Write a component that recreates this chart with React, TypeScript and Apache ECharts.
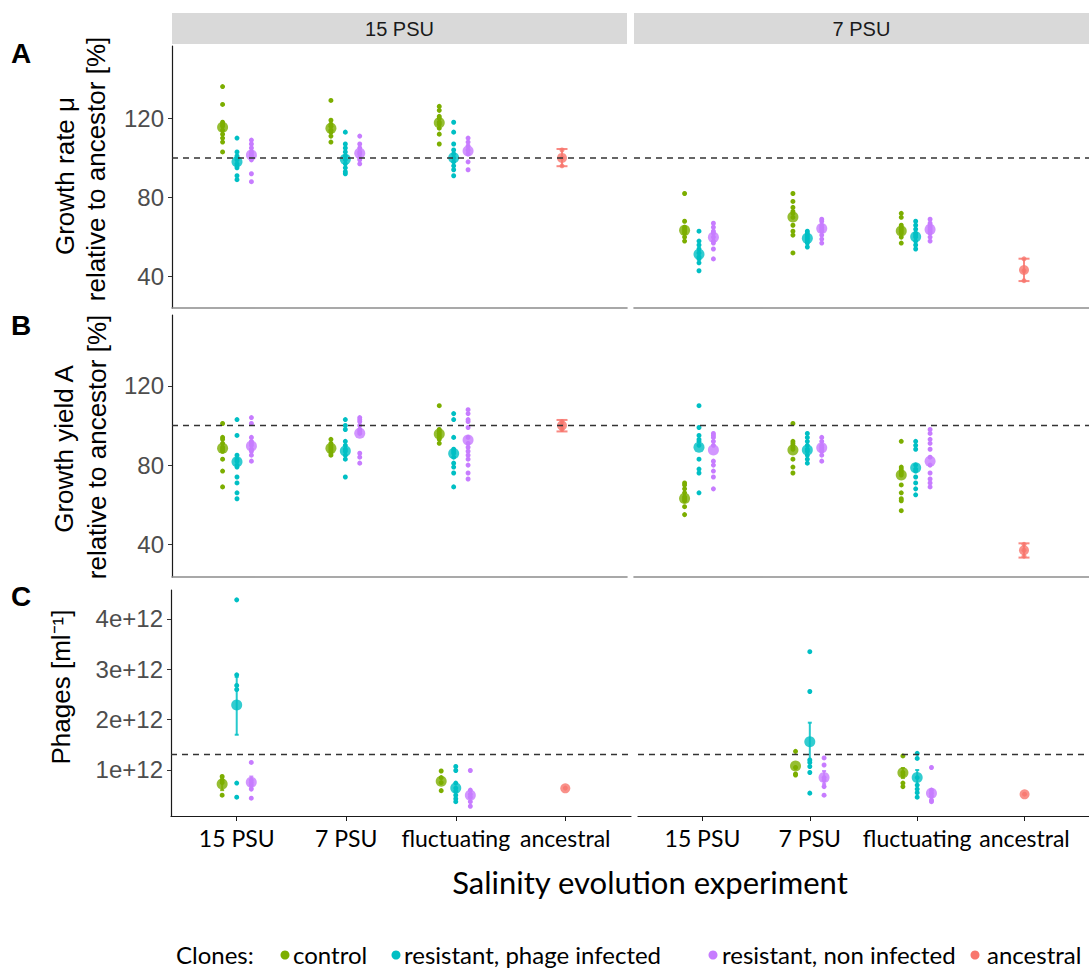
import { useEffect, useRef } from "react";
import * as echarts from "echarts";

// ---------- categories & labels ----------
const categories = ["15 PSU", "7 PSU", "fluctuating", "ancestral"];
const facetLabels = ["15 PSU", "7 PSU"];
const clones = ["control", "resistant, phage infected", "resistant, non infected", "ancestral"];
const cloneColors = ["#7CAE00", "#00BFC4", "#C77CFF", "#F8766D"];
const rateTicks = [40, 80, 120];
const yieldTicks = [40, 80, 120];
const phageTicks = [1, 2, 3, 4]; // in units of 1e12
const rateRef = 100;
const yieldRef = 100;
const phageRef = 1.31; // 1e12

// ---------- Panel A: growth rate (% of ancestor); each = [15 PSU, 7 PSU, fluctuating] ----------
const rateF15_control = [[136, 127, 118, 117, 116, 114, 112, 110, 108, 103], [129, 119, 117, 116, 114, 113, 111, 108], [126, 124, 121, 120, 118, 117, 115, 112, 107]];
const rateF15_infected = [[110, 103, 101, 100, 99, 97, 96, 95, 91, 89], [113, 107, 105, 103, 101, 99, 97, 95, 93, 92], [118, 113, 107, 104, 102, 100, 98, 96, 94, 91]];
const rateF15_nonInfected = [[109, 107, 105, 103, 102, 101, 100, 99, 92, 88], [111, 107, 105, 103, 102, 100, 99, 97], [110, 108, 106, 104, 102, 98, 94]];
const rateF15_ancestral = [104, 100, 96];
const rateF15_means = [[115.5, 115, 117.8], [98.1, 99.3, 100.1], [101.5, 102.3, 103.5]];
const rateF15_ancMean = 100;
const rateF15_errs = [[3, 3, 95.8, 104.5]];

const rateF7_control = [[82, 68, 65, 64, 63, 62, 60, 58], [82, 78, 75, 73, 72, 70, 66, 63, 61, 52], [72, 70, 66, 65, 64, 63, 62, 60, 57]];
const rateF7_infected = [[63, 58, 56, 54, 52, 50, 49, 47, 43], [63, 62, 61, 60, 59, 58, 57, 55], [68, 66, 64, 62, 61, 60, 58, 56, 54]];
const rateF7_nonInfected = [[67, 65, 63, 62, 60, 58, 57, 54, 49], [69, 68, 66, 65, 64, 63, 61, 59, 57], [69, 67, 66, 65, 64, 63, 62, 60, 58]];
const rateF7_ancestral = [49, 43, 38];
const rateF7_means = [[63.4, 70.2, 63.1], [51.3, 59.4, 60.2], [59.9, 64.4, 63.9]];
const rateF7_ancMean = 43.4;
const rateF7_errs = [[3, 3, 37.8, 49.1]];

// ---------- Panel B: growth yield (% of ancestor) ----------
const yieldF15_control = [[101, 94, 93, 91, 89, 88, 87, 83, 77, 69], [93, 91, 90, 89, 88, 87, 86, 85], [110, 98, 97, 96, 95, 94, 93, 91]];
const yieldF15_infected = [[103, 95, 85, 83, 82, 80, 79, 74, 71, 66, 63], [103, 100, 98, 92, 90, 88, 87, 85, 83, 74], [106, 103, 94, 88, 87, 86, 84, 81, 79, 76, 69]];
const yieldF15_nonInfected = [[104, 101, 94, 92, 91, 90, 88, 87, 85, 82], [104, 103, 102, 100, 98, 97, 96, 86, 84, 81], [108, 106, 103, 102, 99, 94, 91, 89, 87, 85, 83, 80, 76, 73]];
const yieldF15_ancestral = [102, 100, 98];
const yieldF15_means = [[88.5, 88.5, 95.7], [81.7, 87.1, 85.9], [89.6, 96.1, 92.7]];
const yieldF15_ancMean = 100;
const yieldF15_errs = [[3, 3, 97, 102.8]];

const yieldF7_control = [[71, 70, 68, 66, 64, 63, 62, 59, 55], [101, 92, 91, 90, 89, 88, 83, 79, 76], [92, 79, 78, 77, 76, 75, 70, 66, 63, 62, 57]];
const yieldF7_infected = [[110, 99, 95, 93, 92, 90, 83, 78, 76, 66], [96, 94, 92, 90, 88, 87, 85, 83, 81], [92, 90, 88, 80, 78, 77, 74, 71, 68, 65]];
const yieldF7_nonInfected = [[96, 95, 94, 92, 90, 82, 80, 77, 74, 68], [94, 92, 90, 89, 88, 87, 85, 82], [98, 96, 93, 91, 88, 84, 80, 76, 73, 71, 69]];
const yieldF7_ancestral = [40, 37, 34];
const yieldF7_means = [[63.2, 87.6, 75], [89, 87.6, 78.7], [87.6, 88.8, 82]];
const yieldF7_ancMean = 37;
const yieldF7_errs = [[3, 3, 33.3, 40.5]];

// ---------- Panel C: phages per ml, in units of 1e12 ----------
const phageF15_control = [[0.87, 0.8, 0.75, 0.5], [], [0.98, 0.85, 0.75, 0.59]];
const phageF15_infected = [[4.38, 2.89, 2.68, 2.6, 0.74, 0.46], [], [1.07, 0.99, 0.74, 0.64, 0.58, 0.5, 0.43, 0.37]];
const phageF15_nonInfected = [[1.15, 0.8, 0.75, 0.7, 0.62, 0.44], [], [0.99, 0.6, 0.52, 0.46, 0.37, 0.28]];
const phageF15_ancestral = [0.64];
const phageF15_means = [[0.72, null, 0.775], [2.29, null, 0.64], [0.755, null, 0.5]];
const phageF15_ancMean = 0.636;
const phageF15_errs = [[1, 0, 1.7, 2.85], [2, 0, 0.64, 0.87], [0, 0, 0.6, 0.85]];

const phageF7_control = [[], [1.37, 1.05, 0.92, 0.9], [1.28, 0.95, 0.9, 0.74, 0.67]];
const phageF7_infected = [[], [3.35, 2.56, 1.2, 1.15, 1.07, 0.95, 0.54], [1.33, 1.23, 0.85, 0.7, 0.62, 0.55, 0.46]];
const phageF7_nonInfected = [[], [1.24, 1.1, 0.85, 0.8, 0.67, 0.5], [1.05, 0.6, 0.54, 0.48, 0.4, 0.37]];
const phageF7_ancestral = [0.52];
const phageF7_means = [[null, 1.08, 0.946], [null, 1.56, 0.85], [null, 0.85, 0.54]];
const phageF7_ancMean = 0.517;
const phageF7_errs = [[1, 1, 1.2, 1.94], [1, 2, 0.7, 1.0], [2, 1, 0.72, 0.98], [0, 2, 0.84, 1.04]];

// ---------- layout ----------
const DODGE = 0.133;
const TICK_FONT = "'Liberation Sans', Arial, Helvetica, sans-serif";
const LABEL_FONT = "Lato, 'Open Sans', sans-serif";
const fmtPlain = (v: number) => String(v);
const fmtPhage = (v: number) => `${v}e+12`;

const PANELS = [
  { rect: { left: 172, top: 46, width: 455, height: 262 }, row: 0, facet: 0, yMin: 24.2, yMax: 156.5, ticks: rateTicks, fmt: fmtPlain, ref: rateRef, cap: 5.5,
    dots: [rateF15_control, rateF15_infected, rateF15_nonInfected], anc: rateF15_ancestral, means: rateF15_means, ancMean: rateF15_ancMean, errs: rateF15_errs },
  { rect: { left: 634, top: 46, width: 455, height: 262 }, row: 0, facet: 1, yMin: 24.2, yMax: 156.5, ticks: rateTicks, fmt: fmtPlain, ref: rateRef, cap: 5.5,
    dots: [rateF7_control, rateF7_infected, rateF7_nonInfected], anc: rateF7_ancestral, means: rateF7_means, ancMean: rateF7_ancMean, errs: rateF7_errs },
  { rect: { left: 172, top: 315, width: 455, height: 262 }, row: 1, facet: 0, yMin: 23.5, yMax: 155.8, ticks: yieldTicks, fmt: fmtPlain, ref: yieldRef, cap: 5.5,
    dots: [yieldF15_control, yieldF15_infected, yieldF15_nonInfected], anc: yieldF15_ancestral, means: yieldF15_means, ancMean: yieldF15_ancMean, errs: yieldF15_errs },
  { rect: { left: 634, top: 315, width: 455, height: 262 }, row: 1, facet: 1, yMin: 23.5, yMax: 155.8, ticks: yieldTicks, fmt: fmtPlain, ref: yieldRef, cap: 5.5,
    dots: [yieldF7_control, yieldF7_infected, yieldF7_nonInfected], anc: yieldF7_ancestral, means: yieldF7_means, ancMean: yieldF7_ancMean, errs: yieldF7_errs },
  { rect: { left: 171, top: 590, width: 460, height: 226 }, row: 2, facet: 0, yMin: 0.086, yMax: 4.576, ticks: phageTicks, fmt: fmtPhage, ref: phageRef, cap: 2,
    dots: [phageF15_control, phageF15_infected, phageF15_nonInfected], anc: phageF15_ancestral, means: phageF15_means, ancMean: phageF15_ancMean, errs: phageF15_errs },
  { rect: { left: 638, top: 590, width: 460, height: 226 }, row: 2, facet: 1, yMin: 0.086, yMax: 4.576, ticks: phageTicks, fmt: fmtPhage, ref: phageRef, cap: 2,
    dots: [phageF7_control, phageF7_infected, phageF7_nonInfected], anc: phageF7_ancestral, means: phageF7_means, ancMean: phageF7_ancMean, errs: phageF7_errs },
];

const xPos = (cat: number, clone: number) => cat + 1 + (clone < 3 ? (clone - 1) * DODGE : 0);

function buildOption() {
  const grid: any[] = [];
  const xAxis: any[] = [];
  const yAxis: any[] = [];
  const series: any[] = [];

  PANELS.forEach((p, i) => {
    const isC = p.row === 2;
    const isLeft = p.facet === 0;
    grid.push({ ...p.rect, containLabel: false });
    xAxis.push({
      type: "value", gridIndex: i, min: 0.4, max: 4.6,
      axisLine: { show: true, onZero: false, lineStyle: { color: isC ? "#1a1a1a" : "#8c8c8c", width: isC ? 1.2 : 1.6 } },
      axisTick: isC ? { show: true, customValues: [1, 2, 3, 4], length: 5, lineStyle: { color: "#1a1a1a", width: 1 } } : { show: false },
      axisLabel: isC
        ? { show: true, customValues: [1, 2, 3, 4], formatter: (v: number) => categories[Math.round(v) - 1], fontFamily: LABEL_FONT, fontSize: 23, color: "#000", margin: 10 }
        : { show: false },
      splitLine: { show: false },
    });
    yAxis.push({
      type: "value", gridIndex: i, min: p.yMin, max: p.yMax, show: isLeft,
      axisLine: { show: true, onZero: false, lineStyle: { color: "#1a1a1a", width: 1.2 } },
      axisTick: { show: true, customValues: p.ticks, length: 4, lineStyle: { color: "#333", width: 1 } },
      axisLabel: { show: true, customValues: p.ticks, formatter: p.fmt, fontSize: 24, color: "#4d4d4d", fontFamily: TICK_FONT, margin: 8 },
      splitLine: { show: false },
    });

    // error bars
    series.push({
      type: "custom", xAxisIndex: i, yAxisIndex: i, z: 2, silent: true,
      encode: { x: 0, y: [1, 2] },
      data: p.errs.map(([c, k, lo, hi]) => [xPos(k, c), lo, hi, c]),
      renderItem: (_params: any, api: any) => {
        const x = api.value(0), lo = api.value(1), hi = api.value(2), c = api.value(3);
        const a = api.coord([x, lo]);
        const b = api.coord([x, hi]);
        const color = cloneColors[c];
        const st = { stroke: color, lineWidth: 2, opacity: 0.85 };
        const hw = p.cap;
        return {
          type: "group",
          children: [
            { type: "line", shape: { x1: a[0], y1: a[1], x2: b[0], y2: b[1] }, style: st },
            { type: "line", shape: { x1: a[0] - hw, y1: a[1], x2: a[0] + hw, y2: a[1] }, style: st },
            { type: "line", shape: { x1: b[0] - hw, y1: b[1], x2: b[0] + hw, y2: b[1] }, style: st },
          ],
        };
      },
    });

    // individual clones
    p.dots.forEach((perCat, c) => {
      const data: number[][] = [];
      perCat.forEach((vals, k) => vals.forEach((v) => data.push([xPos(k, c), v])));
      series.push({
        type: "scatter", name: clones[c], xAxisIndex: i, yAxisIndex: i, z: 3, silent: true,
        symbol: "circle", symbolSize: 5, itemStyle: { color: cloneColors[c], opacity: 1 }, data,
      });
    });
    series.push({
      type: "scatter", name: clones[3], xAxisIndex: i, yAxisIndex: i, z: 3, silent: true,
      symbol: "circle", symbolSize: 5, itemStyle: { color: cloneColors[3] },
      data: p.anc.map((v) => [xPos(3, 3), v]),
    });

    // means
    p.means.forEach((m, c) => {
      const data: number[][] = [];
      m.forEach((v, k) => { if (v !== null) data.push([xPos(k, c), v as number]); });
      series.push({
        type: "scatter", xAxisIndex: i, yAxisIndex: i, z: 4, silent: true,
        symbol: "circle", symbolSize: 11, itemStyle: { color: cloneColors[c] }, data,
      });
    });
    series.push({
      type: "scatter", xAxisIndex: i, yAxisIndex: i, z: 4, silent: true,
      symbol: "circle", symbolSize: 10, itemStyle: { color: cloneColors[3] },
      data: [[xPos(3, 3), p.ancMean]],
    });

    // dashed reference line
    series.push({
      type: "line", xAxisIndex: i, yAxisIndex: i, z: 6, silent: true, symbol: "none",
      lineStyle: { color: "#333", width: 1.5, type: [6, 5] },
      data: [[0.4, p.ref], [4.6, p.ref]],
    });
  });

  const graphic: any[] = [];
  // facet strips
  const strips = [{ x: 172, w: 455 }, { x: 634, w: 455 }];
  strips.forEach((s, j) => {
    graphic.push({ type: "rect", shape: { x: s.x, y: 13, width: s.w, height: 31 }, style: { fill: "#d9d9d9" }, silent: true });
    graphic.push({
      type: "text", x: s.x + s.w / 2, y: 29, silent: true,
      style: { text: facetLabels[j], fontSize: 20, fontFamily: TICK_FONT, fill: "#1a1a1a", align: "center", verticalAlign: "middle", textAlign: "center", textVerticalAlign: "middle" },
    });
  });
  // panel letters
  [["A", 53], ["B", 325], ["C", 596]].forEach(([t, y]) => {
    graphic.push({
      type: "text", x: 11, y: y as number, silent: true,
      style: { text: t as string, fontSize: 28, fontWeight: "bold", fontFamily: TICK_FONT, fill: "#000", align: "left", verticalAlign: "middle", textAlign: "left", textVerticalAlign: "middle" },
    });
  });
  // y-axis titles
  const yTitles: [string, number, number][] = [
    ["Growth rate μ", 65, 176], ["relative to ancestor [%]", 96, 169],
    ["Growth yield A", 64, 449], ["relative to ancestor [%]", 97, 447],
    ["Phages [ml⁻¹]", 61, 687],
  ];
  yTitles.forEach(([t, x, y]) => {
    graphic.push({
      type: "text", x, y, rotation: Math.PI / 2, silent: true,
      style: { text: t, fontSize: 26, fontFamily: TICK_FONT, fill: "#000", align: "center", verticalAlign: "middle", textAlign: "center", textVerticalAlign: "middle" },
    });
  });
  // x-axis title
  graphic.push({
    type: "text", x: 650, y: 882, silent: true,
    style: { text: "Salinity evolution experiment", fontSize: 31, fontFamily: LABEL_FONT, fill: "#000", align: "center", verticalAlign: "middle", textAlign: "center", textVerticalAlign: "middle" },
  });
  // legend
  const legendY = 954;
  graphic.push({
    type: "text", x: 176, y: legendY, silent: true,
    style: { text: "Clones:", fontSize: 24, fontFamily: LABEL_FONT, fill: "#000", align: "left", verticalAlign: "middle", textAlign: "left", textVerticalAlign: "middle" },
  });
  const legendDotX = [285, 396, 713, 975];
  const legendTextX = [293, 404, 722, 987];
  clones.forEach((name, c) => {
    graphic.push({ type: "circle", shape: { cx: legendDotX[c], cy: legendY + 1, r: 4.5 }, style: { fill: cloneColors[c] }, silent: true });
    graphic.push({
      type: "text", x: legendTextX[c], y: legendY, silent: true,
      style: { text: name, fontSize: 24, fontFamily: LABEL_FONT, fill: "#000", align: "left", verticalAlign: "middle", textAlign: "left", textVerticalAlign: "middle" },
    });
  });

  return { animation: false, backgroundColor: "#fff", grid, xAxis, yAxis, series, graphic };
}

export default function App() {
  const ref = useRef<HTMLDivElement>(null);
  useEffect(() => {
    const chart = echarts.init(ref.current!, null, { renderer: "svg" });
    chart.setOption(buildOption() as any);
    return () => chart.dispose();
  }, []);
  return <div ref={ref} style={{ position: "absolute", left: 0, top: 0, width: 1089, height: 969 }} />;
}
